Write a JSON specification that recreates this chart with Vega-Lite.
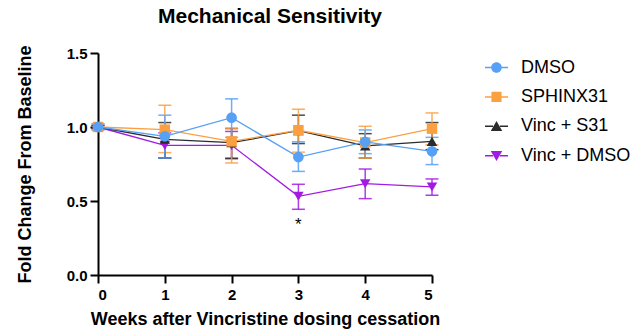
{
  "$schema": "https://vega.github.io/schema/vega-lite/v6.json",
  "width": 334,
  "height": 222,
  "autosize": {"type": "none"},
  "padding": {"left": 98, "top": 53, "right": 205, "bottom": 59},
  "background": "white",
  "config": {
    "view": {"stroke": null},
    "font": "Liberation Sans",
    "axis": {
      "domainColor": "black", "domainWidth": 2, "tickColor": "black", "tickWidth": 2, "tickSize": 8,
      "labelFont": "Liberation Sans", "labelFontSize": 15, "labelFontWeight": "bold", "labelColor": "black",
      "titleFont": "Liberation Sans", "titleFontSize": 18, "titleFontWeight": "bold", "titleColor": "black",
      "grid": false
    },
    "legend": {"orient": "none", "legendX": 387, "legendY": 3, "title": null, "symbolSize": 529, "symbolStrokeWidth": 0, "symbolStrokeColor": "transparent", "symbolOpacity": 1,
      "labelFont": "Liberation Sans", "labelFontSize": 18, "labelColor": "black", "labelOffset": 13, "rowPadding": 8.4, "padding": 0}
  },
  "title": {"text": "Mechanical Sensitivity", "font": "Liberation Sans", "fontSize": 21, "fontWeight": "bold", "color": "black", "anchor": "middle", "frame": "group", "dx": 5, "offset": 18},
  "data": {"values": [
    {"week": 0, "group": "Vinc + DMSO", "mean": 1.0, "lo": 0.99, "hi": 1.01},
    {"week": 1, "group": "Vinc + DMSO", "mean": 0.876, "lo": 0.79, "hi": 0.96},
    {"week": 2, "group": "Vinc + DMSO", "mean": 0.876, "lo": 0.79, "hi": 0.97},
    {"week": 3, "group": "Vinc + DMSO", "mean": 0.532, "lo": 0.444, "hi": 0.613},
    {"week": 4, "group": "Vinc + DMSO", "mean": 0.617, "lo": 0.516, "hi": 0.716},
    {"week": 5, "group": "Vinc + DMSO", "mean": 0.595, "lo": 0.539, "hi": 0.649},
    {"week": 0, "group": "Vinc + S31", "mean": 1.0, "lo": 0.99, "hi": 1.01},
    {"week": 1, "group": "Vinc + S31", "mean": 0.917, "lo": 0.79, "hi": 1.03},
    {"week": 2, "group": "Vinc + S31", "mean": 0.894, "lo": 0.786, "hi": 0.99},
    {"week": 3, "group": "Vinc + S31", "mean": 0.975, "lo": 0.888, "hi": 1.08},
    {"week": 4, "group": "Vinc + S31", "mean": 0.872, "lo": 0.79, "hi": 0.955},
    {"week": 5, "group": "Vinc + S31", "mean": 0.903, "lo": 0.847, "hi": 1.03},
    {"week": 0, "group": "SPHINX31", "mean": 1.0, "lo": 0.98, "hi": 1.02},
    {"week": 1, "group": "SPHINX31", "mean": 0.982, "lo": 0.827, "hi": 1.147},
    {"week": 2, "group": "SPHINX31", "mean": 0.903, "lo": 0.757, "hi": 0.99},
    {"week": 3, "group": "SPHINX31", "mean": 0.978, "lo": 0.83, "hi": 1.12},
    {"week": 4, "group": "SPHINX31", "mean": 0.895, "lo": 0.79, "hi": 1.005},
    {"week": 5, "group": "SPHINX31", "mean": 0.989, "lo": 0.88, "hi": 1.095},
    {"week": 0, "group": "DMSO", "mean": 1.0, "lo": 0.98, "hi": 1.02},
    {"week": 1, "group": "DMSO", "mean": 0.937, "lo": 0.79, "hi": 1.08},
    {"week": 2, "group": "DMSO", "mean": 1.063, "lo": 0.93, "hi": 1.19},
    {"week": 3, "group": "DMSO", "mean": 0.797, "lo": 0.70, "hi": 0.90},
    {"week": 4, "group": "DMSO", "mean": 0.899, "lo": 0.82, "hi": 0.98},
    {"week": 5, "group": "DMSO", "mean": 0.836, "lo": 0.746, "hi": 0.93}
  ]},
  "encoding": {
    "x": {"field": "week", "type": "quantitative", "scale": {"domain": [0, 5], "nice": false},
      "axis": {"values": [0, 1, 2, 3, 4, 5], "format": "d", "labelPadding": 4, "titlePadding": 8, "title": "Weeks after Vincristine dosing cessation"}}
  },
  "layer": [
    {
      "mark": {"type": "errorbar", "ticks": {"size": 13}, "thickness": 1.5, "opacity": 0.85},
      "encoding": {
        "y": {"field": "lo", "type": "quantitative", "scale": {"domain": [0, 1.5], "nice": false},
          "axis": {"values": [0, 0.5, 1, 1.5], "format": ".1f", "labelPadding": 3, "titlePadding": 32, "title": "Fold Change From Baseline"}},
        "y2": {"field": "hi"},
        "color": {"field": "group", "type": "nominal", "legend": null,
          "scale": {"domain": ["DMSO", "SPHINX31", "Vinc + S31", "Vinc + DMSO"], "range": ["#56A0F5", "#FBA040", "#2B2B2B", "#A21BE3"]}}
      }
    },
    {
      "mark": {"type": "line", "strokeWidth": 1.3},
      "encoding": {"y": {"field": "mean", "type": "quantitative"},
        "color": {"field": "group", "type": "nominal", "legend": null}}
    },
    {
      "transform": [{"filter": "datum.group === 'Vinc + DMSO'"}],
      "mark": {"type": "point", "filled": true, "size": 110, "opacity": 1, "shape": "triangle-down"},
      "encoding": {"y": {"field": "mean", "type": "quantitative"}, "color": {"field": "group", "type": "nominal", "legend": null}}
    },
    {
      "transform": [{"filter": "datum.group === 'Vinc + S31'"}],
      "mark": {"type": "point", "filled": true, "size": 110, "opacity": 1, "shape": "triangle-up"},
      "encoding": {"y": {"field": "mean", "type": "quantitative"}, "color": {"field": "group", "type": "nominal", "legend": null}}
    },
    {
      "transform": [{"filter": "datum.group === 'SPHINX31'"}],
      "mark": {"type": "point", "filled": true, "size": 110, "opacity": 1, "shape": "square"},
      "encoding": {"y": {"field": "mean", "type": "quantitative"}, "color": {"field": "group", "type": "nominal", "legend": null}}
    },
    {
      "transform": [{"filter": "datum.group === 'DMSO'"}],
      "mark": {"type": "point", "filled": true, "size": 115, "opacity": 1, "shape": "circle"},
      "encoding": {"y": {"field": "mean", "type": "quantitative"}, "color": {"field": "group", "type": "nominal", "legend": null}}
    },
    {
      "data": {"values": [{"week": 3, "label": "*", "pos": 0.34}]},
      "mark": {"type": "text", "fontSize": 17, "font": "Liberation Sans", "baseline": "middle", "align": "center", "color": "black"},
      "encoding": {
        "y": {"field": "pos", "type": "quantitative"},
        "text": {"field": "label"}
      }
    },
    {
      "mark": {"type": "point", "filled": true, "size": 529, "opacity": 0},
      "encoding": {
        "y": {"field": "mean", "type": "quantitative"},
        "color": {"field": "group", "type": "nominal"},
        "shape": {"field": "group", "type": "nominal",
          "scale": {"domain": ["DMSO", "SPHINX31", "Vinc + S31", "Vinc + DMSO"],
            "range": [
              "M-1,-0.065H-0.3V0.065H-1ZM0.3,-0.065H1V0.065H0.3ZM0.46,0A0.46,0.46,0,1,1,-0.46,0A0.46,0.46,0,1,1,0.46,0Z",
              "M-1,-0.065H-0.3V0.065H-1ZM0.3,-0.065H1V0.065H0.3ZM-0.44,-0.44H0.44V0.44H-0.44Z",
              "M-1,-0.065H-0.3V0.065H-1ZM0.3,-0.065H1V0.065H0.3ZM0,-0.47L0.5,0.4L-0.5,0.4Z",
              "M-1,-0.065H-0.3V0.065H-1ZM0.3,-0.065H1V0.065H0.3ZM0,0.47L0.5,-0.4L-0.5,-0.4Z"]}}
      }
    }
  ],
  "resolve": {"legend": {"color": "independent", "shape": "independent"}}
}
